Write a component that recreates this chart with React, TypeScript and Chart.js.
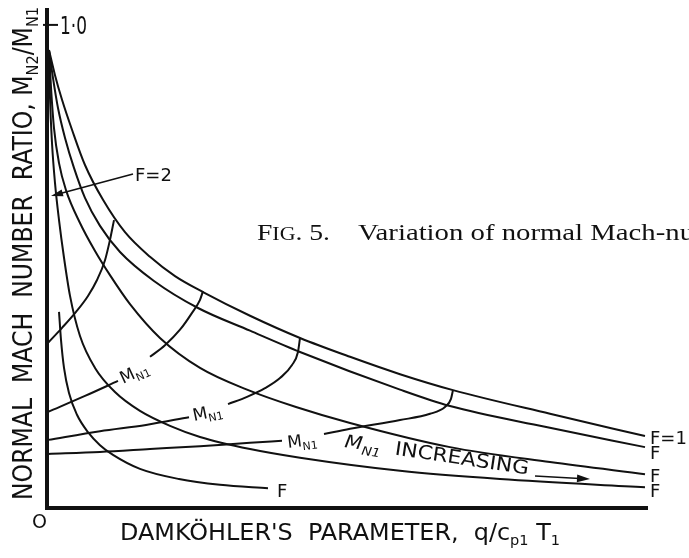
import React, { useEffect, useRef } from "react";
import { Chart, registerables } from "chart.js";

Chart.register(...registerables);

// ---- axis ranges ----
const X_MIN = 0;
const X_MAX = 10;
const Y_MIN = 0;
const Y_MAX = 1.035;
const yTickValue = 1.0;
const yTickLabel = "1·0";
const originLabel = "O";

// ---- F curves (Damköhler parameter, Mach number ratio) ----
const curveF1: [number, number][] = [
  [0.033, 0.948], [0.133, 0.896], [0.250, 0.845], [0.416, 0.783], [0.632, 0.710],
  [0.932, 0.638], [1.298, 0.571], [1.714, 0.520], [2.130, 0.480], [2.596, 0.447],
  [3.378, 0.398], [4.210, 0.352], [5.042, 0.313], [5.874, 0.277], [6.755, 0.244],
  [8.369, 0.195], [9.950, 0.149],
];
const curveF2: [number, number][] = [
  [0.033, 0.948], [0.100, 0.890], [0.183, 0.828], [0.300, 0.766], [0.449, 0.704],
  [0.632, 0.642], [0.882, 0.584], [1.215, 0.530], [1.780, 0.470], [2.513, 0.414],
  [3.378, 0.367], [4.210, 0.323], [5.874, 0.245], [6.705, 0.211], [8.286, 0.168],
  [9.950, 0.126],
];
const curveF3: [number, number][] = [
  [0.033, 0.948], [0.067, 0.870], [0.116, 0.787], [0.200, 0.714], [0.316, 0.658],
  [0.549, 0.590], [0.799, 0.532], [1.048, 0.482], [1.381, 0.422], [1.880, 0.352],
  [2.546, 0.290], [3.328, 0.245], [4.143, 0.209], [5.042, 0.176], [6.705, 0.126],
  [8.369, 0.095], [9.950, 0.070],
];
const curveF4: [number, number][] = [
  [0.033, 0.948], [0.050, 0.849], [0.083, 0.756], [0.133, 0.673], [0.200, 0.596],
  [0.283, 0.518], [0.383, 0.439], [0.549, 0.356], [0.799, 0.290], [1.131, 0.240],
  [1.547, 0.201], [2.047, 0.170], [2.546, 0.147], [3.378, 0.122], [4.210, 0.104],
  [5.874, 0.077], [7.537, 0.060], [9.950, 0.043],
];
const curveF5: [number, number][] = [
  [0.200, 0.406], [0.233, 0.348], [0.283, 0.290], [0.366, 0.238], [0.499, 0.193],
  [0.682, 0.157], [0.882, 0.130], [1.098, 0.110], [1.547, 0.081], [2.196, 0.060],
  [2.879, 0.048], [3.677, 0.041],
];

// ---- constant M_N1 cross-curves (null = break for the label) ----
const arcA: [number, number | null][] = [
  [0.017, 0.342], [0.250, 0.373], [0.483, 0.406], [0.682, 0.439], [0.832, 0.472],
  [0.965, 0.513], [1.048, 0.555], [1.115, 0.596],
];
const arcB: [number, number | null][] = [
  [0.017, 0.199], [0.632, 0.232], [1.181, 0.263], [1.40, null], [1.714, 0.313],
  [1.963, 0.337], [2.213, 0.369], [2.413, 0.404], [2.546, 0.431], [2.596, 0.449],
];
const arcC: [number, number | null][] = [
  [0.017, 0.141], [0.882, 0.159], [1.647, 0.172], [2.363, 0.188], [2.70, null],
  [3.012, 0.215], [3.328, 0.230], [3.627, 0.248], [3.877, 0.269], [4.077, 0.296],
  [4.176, 0.323], [4.210, 0.352],
];
const arcD: [number, number | null][] = [
  [0.017, 0.112], [0.882, 0.116], [1.714, 0.122], [2.546, 0.128], [3.378, 0.135],
  [3.910, 0.139], [4.25, null], [4.609, 0.153], [5.042, 0.164], [5.874, 0.182],
  [6.373, 0.195], [6.622, 0.209], [6.722, 0.226], [6.755, 0.244],
];

const fCurves = [curveF1, curveF2, curveF3, curveF4, curveF5];
const machArcs = [arcA, arcB, arcC, arcD];
const rightLabels = ["F=1", "F", "F", "F"];

type Run = { t: string; size: number; dy?: number; style?: string; family?: string };

function drawRuns(
  ctx: CanvasRenderingContext2D,
  x: number,
  y: number,
  angle: number,
  runs: Run[],
  fitWidth?: number,
  defFamily = '"DejaVu Sans", sans-serif'
) {
  ctx.save();
  ctx.translate(x, y);
  ctx.rotate(angle);
  const fontOf = (r: Run) => `${r.style || ""} ${r.size}px ${r.family || defFamily}`;
  let total = 0;
  const widths = runs.map((r) => {
    ctx.font = fontOf(r);
    const w = ctx.measureText(r.t).width;
    total += w;
    return w;
  });
  if (fitWidth) ctx.scale(fitWidth / total, 1);
  let cx = 0;
  ctx.textBaseline = "alphabetic";
  ctx.textAlign = "left";
  runs.forEach((r, i) => {
    ctx.font = fontOf(r);
    ctx.fillText(r.t, cx, r.dy || 0);
    cx += widths[i];
  });
  ctx.restore();
}

function arrow(ctx: CanvasRenderingContext2D, x1: number, y1: number, x2: number, y2: number, head: number, lw: number) {
  const a = Math.atan2(y2 - y1, x2 - x1);
  ctx.lineWidth = lw;
  ctx.beginPath();
  ctx.moveTo(x1, y1);
  ctx.lineTo(x2 - Math.cos(a) * head * 0.8, y2 - Math.sin(a) * head * 0.8);
  ctx.stroke();
  ctx.beginPath();
  ctx.moveTo(x2, y2);
  ctx.lineTo(x2 - Math.cos(a) * head + Math.sin(a) * head * 0.3, y2 - Math.sin(a) * head - Math.cos(a) * head * 0.3);
  ctx.lineTo(x2 - Math.cos(a) * head - Math.sin(a) * head * 0.3, y2 - Math.sin(a) * head + Math.cos(a) * head * 0.3);
  ctx.closePath();
  ctx.fill();
}

const overlay = {
  id: "overlay",
  afterDraw(chart: any) {
    const ctx: CanvasRenderingContext2D = chart.ctx;
    const { left, right, top, bottom } = chart.chartArea;
    const xs = chart.scales.x;
    const ys = chart.scales.y;
    ctx.save();
    ctx.fillStyle = "#111";
    ctx.strokeStyle = "#111";
    // axes
    ctx.lineWidth = 4;
    ctx.beginPath();
    ctx.moveTo(left, top);
    ctx.lineTo(left, bottom + 2);
    ctx.stroke();
    ctx.beginPath();
    ctx.moveTo(left - 2, bottom);
    ctx.lineTo(right, bottom);
    ctx.stroke();
    // tick at 1.0
    const ty = ys.getPixelForValue(yTickValue);
    ctx.lineWidth = 2;
    ctx.beginPath();
    ctx.moveTo(left - 4, ty);
    ctx.lineTo(left + 11, ty);
    ctx.stroke();
    drawRuns(ctx, left + 13, ty + 9, 0, [{ t: yTickLabel, size: 24 }], 27);
    drawRuns(ctx, left - 15, bottom + 20, 0, [{ t: originLabel, size: 20 }], 15);

    // y-axis title
    drawRuns(ctx, 32, 500, -Math.PI / 2, [
      { t: "NORMAL  MACH  NUMBER  RATIO, M", size: 26 },
      { t: "N2", size: 16, dy: 6 },
      { t: "/M", size: 26 },
      { t: "N1", size: 16, dy: 6 },
    ], 493);

    // x-axis title
    drawRuns(ctx, 120, 540, 0, [
      { t: "DAMKÖHLER'S  PARAMETER,  q/c", size: 23 },
      { t: "p1", size: 14, dy: 5 },
      { t: " T", size: 23 },
      { t: "1", size: 14, dy: 5 },
    ], 440);

    // caption
    const serif = '"Liberation Serif", "DejaVu Serif", serif';
    drawRuns(ctx, 257, 240, 0, [
      { t: "F", size: 24, family: serif },
      { t: "IG", size: 19, family: serif },
      { t: ". 5.", size: 24, family: serif },
    ], 73);
    drawRuns(ctx, 358, 240, 0, [{ t: "Variation of normal Mach-nu", size: 24, family: serif }], 336);

    // right-hand F labels
    const lblY = [444, 459, 482, 497];
    rightLabels.forEach((t, i) => {
      drawRuns(ctx, right + 2, lblY[i], 0, [{ t, size: 18 }]);
    });
    // lower-left F label
    const f5end = curveF5[curveF5.length - 1];
    drawRuns(ctx, xs.getPixelForValue(f5end[0]) + 9, ys.getPixelForValue(f5end[1]) + 9, 0, [{ t: "F", size: 18 }]);

    // F=2 label with arrow
    drawRuns(ctx, 135, 181, 0, [{ t: "F=2", size: 18 }]);
    arrow(ctx, 133, 174, 51, 196, 12, 1.6);

    // M_N1 labels on arcs
    const mLabel = (x: number, y: number, ang: number) =>
      drawRuns(ctx, x, y, (ang * Math.PI) / 180, [
        { t: "M", size: 17 },
        { t: "N1", size: 11, dy: 4 },
      ]);
    mLabel(123, 384, -25);
    mLabel(194, 421, -12);
    mLabel(288, 448, -7);

    // M_N1 INCREASING
    drawRuns(ctx, 344, 447, (8.5 * Math.PI) / 180, [
      { t: "M", size: 18, style: "italic" },
      { t: "N1", size: 12, dy: 5, style: "italic" },
      { t: "  INCREASING", size: 19 },
    ], 186);
    arrow(ctx, 535, 476, 590, 479, 13, 1.6);
    ctx.restore();
  },
};

export default function App() {
  const ref = useRef<HTMLCanvasElement | null>(null);
  useEffect(() => {
    document.body.style.margin = "0";
    document.body.style.background = "#fff";
    const toPts = (arr: [number, number | null][]) => arr.map(([x, y]) => ({ x, y }));
    const datasets = [
      ...fCurves.map((c, i) => ({ label: `F${i + 1}`, data: toPts(c) })),
      ...machArcs.map((c, i) => ({ label: `MN1-${i + 1}`, data: toPts(c) })),
    ].map((d) => ({
      ...d,
      showLine: true,
      borderColor: "#111",
      borderWidth: 2,
      pointRadius: 0,
      fill: false,
      spanGaps: false,
      cubicInterpolationMode: "monotone" as const,
    }));
    const chart = new Chart(ref.current as HTMLCanvasElement, {
      type: "scatter",
      data: { datasets: datasets as any },
      options: {
        animation: false,
        responsive: false,
        devicePixelRatio: 1,
        layout: { padding: { left: 47, right: 41, top: 8, bottom: 50 } },
        plugins: { legend: { display: false }, tooltip: { enabled: false } },
        scales: {
          x: { type: "linear", min: X_MIN, max: X_MAX, display: false },
          y: { type: "linear", min: Y_MIN, max: Y_MAX, display: false },
        },
      },
      plugins: [overlay],
    });
    return () => chart.destroy();
  }, []);
  return <canvas ref={ref} width={689} height={558} style={{ display: "block" }} />;
}
